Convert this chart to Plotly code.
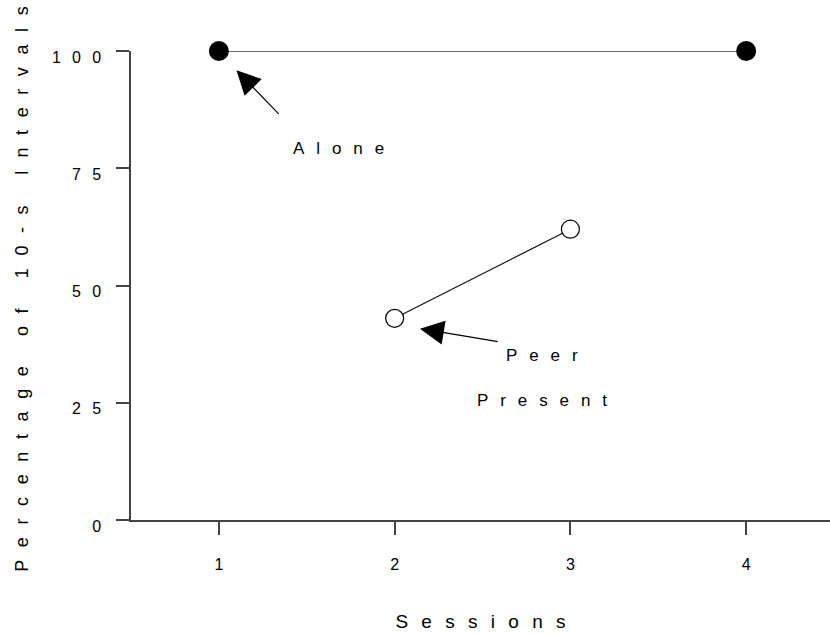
import plotly.graph_objects as go

# Observation data: percentage of 10-s intervals per session
alone_sessions = [1, 4]
alone_values = [100, 100]
peer_sessions = [2, 3]
peer_values = [43, 62]

x_ticks = [1, 2, 3, 4]
y_ticks = [0, 25, 50, 75, 100]

FONT = "Liberation Sans, Arial, sans-serif"
GAP = "\u2002\u2009"  # wide tracking between characters


def track(s):
    """Letter-space a string by inserting a spacer between characters."""
    return GAP.join(list(s))


fig = go.Figure()

fig.add_trace(go.Scatter(
    x=alone_sessions, y=alone_values, mode="lines+markers",
    line=dict(color="#333333", width=1.6),
    marker=dict(size=20, color="black", line=dict(color="black", width=0)),
    cliponaxis=False, showlegend=False, name="Alone",
))
fig.add_trace(go.Scatter(
    x=peer_sessions, y=peer_values, mode="lines+markers",
    line=dict(color="#111111", width=1.2),
    marker=dict(size=18, color="white", line=dict(color="black", width=1.2)),
    cliponaxis=False, showlegend=False, name="Peer Present",
))

# Arrows pointing at the first point of each series
arrow_common = dict(
    xref="x", yref="y", axref="x", ayref="y", text=" ",
    font=dict(size=1), showarrow=True, arrowhead=2, arrowsize=4.0,
    arrowwidth=1.2, arrowcolor="black", borderpad=0,
)
fig.add_annotation(x=1.10, y=95.9, ax=1.343, ay=86.5, **arrow_common)
fig.add_annotation(x=2.144, y=40.8, ax=2.59, ay=38.0, **arrow_common)

label_font = dict(family=FONT, size=17, color="black")
fig.add_annotation(x=1.683, y=79.3, text=track("Alone"), showarrow=False,
                   font=label_font, xref="x", yref="y")
fig.add_annotation(x=2.838, y=35.0, text=track("Peer"), showarrow=False,
                   font=label_font, xref="x", yref="y")
fig.add_annotation(x=2.84, y=25.5, text=track("Present"), showarrow=False,
                   font=label_font, xref="x", yref="y")

# Vertical axis title, placed beside the tick labels
fig.add_annotation(
    x=-0.156, y=0.493, xref="paper", yref="paper",
    text=track("Percentage of 10-s Intervals"), textangle=-90,
    showarrow=False, xanchor="center", yanchor="middle",
    font=dict(family=FONT, size=18, color="black"),
)

axis_common = dict(
    showgrid=False, zeroline=False, showline=True,
    linecolor="#444444", linewidth=1.5,
    ticks="outside", ticklen=13, tickwidth=1.5, tickcolor="#444444",
    tickfont=dict(family=FONT, size=16, color="black"),
)

fig.update_xaxes(
    range=[0.5, 4.477], tickvals=x_ticks,
    ticktext=[track(str(v)) for v in x_ticks],
    ticklabelstandoff=16,
    title=dict(text=track("Sessions"), font=dict(family=FONT, size=19, color="black"),
               standoff=43),
    **axis_common,
)
fig.update_yaxes(
    range=[0, 100], tickvals=y_ticks,
    ticktext=[track(str(v)) for v in y_ticks],
    ticklabelstandoff=12, ticklabelshift=6,
    **axis_common,
)

fig.update_layout(
    width=830, height=634, autosize=False,
    margin=dict(l=131, r=0, t=51, b=114),
    paper_bgcolor="white", plot_bgcolor="white",
    font=dict(family=FONT, color="black"),
)

fig.write_html("out.html")
